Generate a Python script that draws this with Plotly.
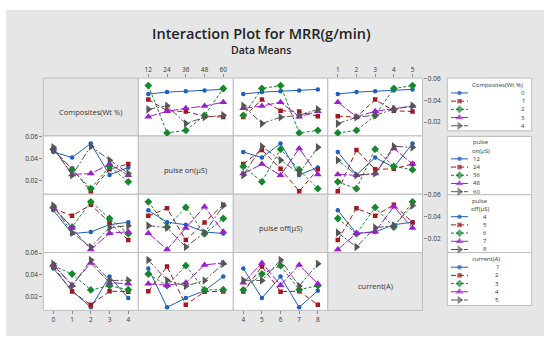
import plotly.graph_objects as go
import pandas as pd

W, H = 550, 342

# ---------------- data ----------------
factor_keys = ["composites", "pulse_on", "pulse_off", "current"]
factor_labels = ["Composites(Wt %)", "pulse on(µS)", "pulse off(µS)", "current(A)"]
legend_title_lines = [["Composites(Wt %)"], ["pulse", "on(µS)"], ["pulse", "off(µS)"], ["current(A)"]]

composites_levels = [0, 1, 2, 3, 4]
pulse_on_levels = [12, 24, 36, 48, 60]
pulse_off_levels = [4, 5, 6, 7, 8]
current_levels = [1, 2, 3, 4, 5]

# L25 experimental runs
run_composites = [0, 0, 0, 0, 0, 1, 1, 1, 1, 1, 2, 2, 2, 2, 2, 3, 3, 3, 3, 3, 4, 4, 4, 4, 4]
run_pulse_on = [12, 24, 36, 48, 60, 12, 24, 36, 48, 60, 12, 24, 36, 48, 60,
                12, 24, 36, 48, 60, 12, 24, 36, 48, 60]
run_pulse_off = [4, 5, 6, 7, 8, 5, 6, 7, 8, 4, 6, 7, 8, 4, 5, 7, 8, 4, 5, 6, 8, 4, 5, 6, 7]
run_current = [1, 2, 3, 4, 5, 3, 4, 5, 1, 2, 5, 1, 2, 3, 4, 2, 3, 4, 5, 1, 4, 5, 1, 2, 3]
run_mrr = [0.0459, 0.0477, 0.0485, 0.0492, 0.0502,
           0.0408, 0.0305, 0.0297, 0.0254, 0.0246,
           0.0537, 0.0100, 0.0123, 0.0261, 0.0510,
           0.0249, 0.0300, 0.0327, 0.0348, 0.0384,
           0.0318, 0.0350, 0.0186, 0.0245, 0.0263]

df = pd.DataFrame({"composites": run_composites, "pulse_on": run_pulse_on,
                   "pulse_off": run_pulse_off, "current": run_current, "mrr": run_mrr})
levels = [composites_levels, pulse_on_levels, pulse_off_levels, current_levels]

y_ticks = [0.02, 0.04, 0.06]
y_range = [0.0072, 0.0606]

# ---------------- styles ----------------
colors = ["#1f5fbf", "#a3171f", "#15872c", "#9b1fd0", "#565656"]
symbols = ["circle", "square", "diamond", "triangle-up", "triangle-right"]
msizes = [4.5, 4.5, 6, 7, 7.5]
dashes = ["solid", "5px,3px", "3px,2px", "9px,2px", "7px,2px,2px,2px"]

FONT = "Open Sans, Noto Sans, sans-serif"
BG = "#e6e6e6"
BORDER = "#bdbdbd"

col_edges = [43.3, 138.3, 233.3, 327.8, 422.5]
row_edges = [75.0, 133.5, 192.5, 251.5, 310.0]

fig = go.Figure()
layout = dict(width=W, height=H, margin=dict(l=0, r=0, t=0, b=0),
              paper_bgcolor="white", plot_bgcolor="rgba(0,0,0,0)", showlegend=False,
              font=dict(family=FONT, size=7, color="#333333"))
shapes = []
annotations = []


def px(x):
    return x / W


def py(y):
    return 1 - y / H


def note(x, y, text, size, xanchor="center", **kw):
    annotations.append(dict(x=px(x), y=py(y), xref="paper", yref="paper", text=text,
                            showarrow=False, xanchor=xanchor, yanchor="middle", borderpad=0,
                            font=dict(size=size, color=kw.pop("color", "#333333"),
                                      weight=kw.pop("weight", "normal")), **kw))


# outer gray background
shapes.append(dict(type="rect", xref="paper", yref="paper", x0=px(6), x1=px(544),
                   y0=py(336), y1=py(6), fillcolor=BG, line=dict(width=0), layer="below"))

k = 0
for i in range(4):
    for j in range(4):
        x0, x1 = col_edges[j], col_edges[j + 1]
        y0, y1 = row_edges[i], row_edges[i + 1]
        if i == j:
            shapes.append(dict(type="rect", xref="paper", yref="paper", x0=px(x0), x1=px(x1),
                               y0=py(y1), y1=py(y0), fillcolor=BG,
                               line=dict(color=BORDER, width=1), layer="below"))
            note((x0 + x1) / 2, (y0 + y1) / 2 + 5, factor_labels[i], 7.5)
            continue
        shapes.append(dict(type="rect", xref="paper", yref="paper", x0=px(x0), x1=px(x1),
                           y0=py(y1), y1=py(y0), fillcolor="white",
                           line=dict(color=BORDER, width=1), layer="below"))
        k += 1
        xa = "x" if k == 1 else f"x{k}"
        ya = "y" if k == 1 else f"y{k}"
        lv_x = levels[j]
        step = lv_x[1] - lv_x[0]
        show_x = (i == 0 and j in (1, 3)) or (i == 3 and j in (0, 2))
        show_y = (j == 0 and i in (1, 3)) or (j == 3 and i in (0, 2))
        layout["xaxis" if k == 1 else f"xaxis{k}"] = dict(
            domain=[px(x0), px(x1)], anchor=ya,
            range=[lv_x[0] - 0.535 * step, lv_x[-1] + 0.535 * step],
            tickvals=lv_x, ticktext=[str(v) for v in lv_x],
            showticklabels=show_x, ticks="outside" if show_x else "", ticklen=3,
            tickcolor="#8a8a8a", side="top" if i == 0 else "bottom",
            showgrid=False, zeroline=False, showline=False,
            tickfont=dict(size=6.5, color="#333333"), fixedrange=True)
        layout["yaxis" if k == 1 else f"yaxis{k}"] = dict(
            domain=[py(y1), py(y0)], anchor=xa, range=y_range,
            tickvals=y_ticks, tickformat=".2f",
            showticklabels=show_y, ticks="outside" if show_y else "", ticklen=3,
            tickcolor="#8a8a8a", side="right" if j == 3 else "left",
            showgrid=False, zeroline=False, showline=False,
            tickfont=dict(size=6.5, color="#333333"), fixedrange=True)
        fi, fj = factor_keys[i], factor_keys[j]
        for s, lvl in enumerate(levels[i]):
            sub = df[df[fi] == lvl].groupby(fj)["mrr"].mean().reindex(levels[j])
            fig.add_trace(go.Scatter(
                x=list(sub.index), y=list(sub.values), mode="lines+markers",
                xaxis=xa, yaxis=ya, name=f"{factor_labels[i]} {lvl}",
                line=dict(color=colors[s], width=1, dash=dashes[s]),
                marker=dict(symbol=symbols[s], size=msizes[s], color=colors[s],
                            line=dict(width=0))))

# ---------------- legend boxes (keys drawn on a pixel overlay axis) ----------------
kl = k + 1
layout[f"xaxis{kl}"] = dict(domain=[0, 1], range=[0, W], visible=False, fixedrange=True,
                            anchor=f"y{kl}")
layout[f"yaxis{kl}"] = dict(domain=[0, 1], range=[H, 0], visible=False, fixedrange=True,
                            anchor=f"x{kl}")

leg_box_x = [447.3, 531.7]
leg_box_y = [(75, 128.3), (134, 193), (193, 251.5), (251.5, 305)]
leg_title_y = [[82.0], [140.0, 148.3], [199.2, 207.1], [258.4]]
leg_title_x = [498, 480.5, 480, 485.5]
leg_item_y0 = [90.0, 156.7, 215.2, 266.3]
leg_item_step = 8.3
leg_label_right = [526, 481, 488, 500]
key_x = [451, 459.5, 468]

for r in range(4):
    ty0, ty1 = leg_box_y[r]
    shapes.append(dict(type="rect", xref="paper", yref="paper",
                       x0=px(leg_box_x[0]), x1=px(leg_box_x[1]), y0=py(ty1), y1=py(ty0),
                       fillcolor="white", line=dict(color=BORDER, width=1), layer="below"))
    for line_text, ly in zip(legend_title_lines[r], leg_title_y[r]):
        note(leg_title_x[r], ly, line_text, 6)
    for s, lvl in enumerate(levels[r]):
        yy = leg_item_y0[r] + s * leg_item_step
        fig.add_trace(go.Scatter(
            x=key_x, y=[yy] * 3, mode="lines+markers", xaxis=f"x{kl}", yaxis=f"y{kl}",
            line=dict(color=colors[s], width=1, dash=dashes[s]),
            marker=dict(symbol=symbols[s], size=[0, msizes[s], 0], color=colors[s],
                        line=dict(width=0)), hoverinfo="skip"))
        note(leg_label_right[r], yy, str(lvl), 6, xanchor="right")

# ---------------- titles ----------------
note(261, 30, "Interaction Plot for MRR(g/min)", 14.5, color="#222222", weight=600)
note(261, 47, "Data Means", 10.5, color="#222222", weight=600)

layout["shapes"] = shapes
layout["annotations"] = annotations
fig.update_layout(**layout)
fig.write_html("out.html", config={"displayModeBar": False},
               post_script="document.body.style.margin='0';document.body.style.padding='0';")
